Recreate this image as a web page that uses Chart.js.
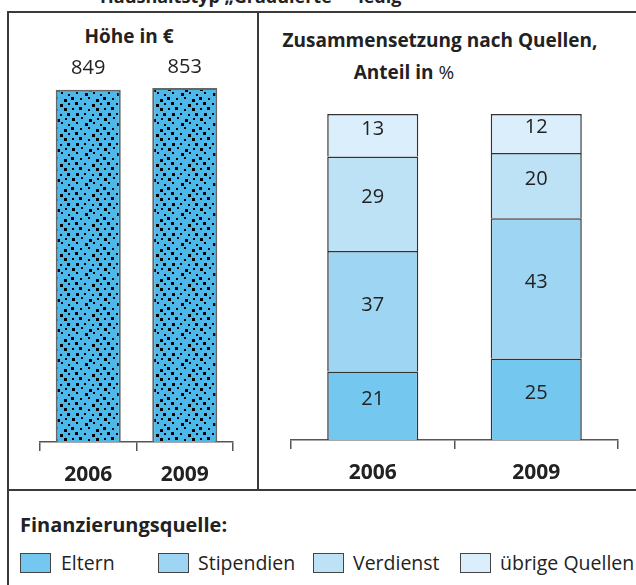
<!DOCTYPE html>
<html>
<head>
<meta charset="utf-8">
<script src="https://cdn.jsdelivr.net/npm/chart.js@4"></script>
<style>
  body { margin: 0; width: 636px; height: 585px; position: relative; overflow: hidden; background: #fff;
         font-family: 'Open Sans', sans-serif; color: #222; }
  .ln { position: absolute; background: #3a3a3a; }
  .t { position: absolute; white-space: nowrap; line-height: 24px; }
  canvas { position: absolute; }
  .lg { position: absolute; top: 553px; height: 20px; width: 31px; box-sizing: border-box; border: 1.5px solid #444; }
</style>
</head>
<body>
<div class="t" style="left:100px;top:-16px;font-weight:700;font-size:18px;">Haushaltstyp „Graduierte“ – ledig</div>

<div class="ln" style="left:7px;top:11px;width:629px;height:2px;"></div>
<div class="ln" style="left:7px;top:11px;width:2px;height:574px;"></div>
<div class="ln" style="left:257px;top:11px;width:2px;height:480px;"></div>
<div class="ln" style="left:7px;top:489px;width:629px;height:2px;"></div>

<div class="t" style="left:0;width:258px;top:24px;text-align:center;font-weight:700;font-size:19px;">Höhe in €</div>
<div class="t" style="left:259px;width:362px;top:28px;text-align:center;font-weight:700;font-size:19px;">Zusammensetzung nach Quellen,</div>
<div class="t" style="left:259px;width:290px;top:60px;text-align:center;font-weight:700;font-size:19px;">Anteil in <span style="font-weight:400">%</span></div>

<canvas id="left" width="197" height="465" style="left:38px;top:27px;"></canvas>
<canvas id="right" width="331" height="378" style="left:289px;top:112px;"></canvas>

<div class="t" style="left:20px;top:513px;font-weight:700;font-size:20px;">Finanzierungsquelle:</div>
<div id="legend"></div>

<script>
const years = ['2006', '2009'];
const amounts = [849, 853];

const sources = ['Eltern', 'Stipendien', 'Verdienst', 'übrige Quellen'];
const eltern = [21, 25];
const stipendien = [37, 43];
const verdienst = [29, 20];
const uebrige = [13, 12];
const sourceColors = ['#74c8ef', '#9dd5f2', '#bde1f5', '#dbeefb'];

// stipple fill for the amount bars (hand-placed dots, uneven on purpose)
function dotPattern() {
  const c = document.createElement('canvas');
  c.width = 32; c.height = 30;
  const g = c.getContext('2d');
  g.fillStyle = '#4cb9ea';
  g.fillRect(0, 0, 32, 30);
  g.fillStyle = '#000';
  [[2, 1, 3], [11, 0, 2], [19, 2, 3], [27, 1, 2],
   [6, 5, 2], [15, 6, 3], [23, 5, 2], [30, 7, 2],
   [1, 10, 3], [10, 11, 2], [18, 10, 2], [26, 12, 3],
   [5, 15, 3], [14, 16, 2], [22, 17, 3], [30, 16, 2],
   [2, 21, 2], [9, 20, 3], [18, 22, 2], [26, 21, 3],
   [6, 26, 3], [14, 26, 2], [22, 27, 2], [29, 26, 3]]
    .forEach(([x, y, s]) => g.fillRect(x, y, s, s));
  return g.createPattern(c, 'repeat');
}

const valueLabels = {
  id: 'valueLabels',
  afterDatasetsDraw(chart, args, opts) {
    const ctx = chart.ctx;
    ctx.save();
    ctx.font = '20px "Open Sans", sans-serif';
    ctx.fillStyle = '#222';
    ctx.textAlign = 'center';
    ctx.textBaseline = 'middle';
    chart.data.datasets.forEach((ds, i) => {
      chart.getDatasetMeta(i).data.forEach((bar, j) => {
        let y = opts.inside ? (bar.y + bar.base) / 2 + opts.dy : bar.y + opts.dy;
        ctx.fillText(ds.data[j], bar.x, y);
      });
    });
    ctx.restore();
  }
};

function xAxis() {
  return {
    border: { color: '#555', width: 1.5 },
    grid: { drawOnChartArea: false, tickLength: 9, color: '#555', lineWidth: 1.5 },
    ticks: { color: '#222', padding: 11, font: { family: 'Open Sans', size: 21, weight: 'bold' } },
    afterFit: s => { s.height = 50; }
  };
}

new Chart(document.getElementById('left'), {
  type: 'bar',
  data: {
    labels: years,
    datasets: [{
      data: amounts,
      backgroundColor: dotPattern(),
      borderColor: '#666',
      borderWidth: 2,
      borderSkipped: 'bottom',
      barPercentage: 0.674,
      categoryPercentage: 1
    }]
  },
  options: {
    responsive: false,
    animation: false,
    layout: { padding: { left: 2, right: 2 } },
    plugins: { legend: { display: false }, tooltip: { enabled: false }, valueLabels: { inside: false, dy: -21 } },
    scales: {
      x: xAxis(),
      y: { display: false, min: 0, max: 1000 }
    }
  },
  plugins: [valueLabels]
});

const shares = [eltern, stipendien, verdienst, uebrige];

new Chart(document.getElementById('right'), {
  type: 'bar',
  data: {
    labels: years,
    datasets: sources.map((s, i) => ({
      label: s,
      data: shares[i],
      backgroundColor: sourceColors[i],
      borderColor: '#333',
      borderWidth: 1.5,
      borderSkipped: 'start',
      barPercentage: 0.557,
      categoryPercentage: 1
    }))
  },
  options: {
    responsive: false,
    animation: false,
    layout: { padding: { left: 2, right: 2, top: 2 } },
    plugins: { legend: { display: false }, tooltip: { enabled: false }, valueLabels: { inside: true, dy: -6 } },
    scales: {
      x: Object.assign(xAxis(), { stacked: true }),
      y: { display: false, stacked: true, min: 0, max: 100 }
    }
  },
  plugins: [valueLabels]
});

// legend row
const boxX = [20, 158, 313, 460];
const textX = [61, 198, 353, 500];
const lg = document.getElementById('legend');
sources.forEach((s, i) => {
  const b = document.createElement('div');
  b.className = 'lg';
  b.style.left = boxX[i] + 'px';
  b.style.background = sourceColors[i];
  lg.appendChild(b);
  const t = document.createElement('div');
  t.className = 't';
  t.style.left = textX[i] + 'px';
  t.style.top = '551px';
  t.style.fontSize = '19.5px';
  t.textContent = s;
  lg.appendChild(t);
});
</script>
</body>
</html>
